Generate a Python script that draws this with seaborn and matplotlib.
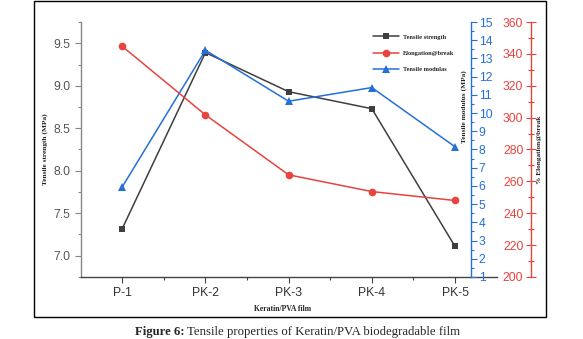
import matplotlib
matplotlib.use("Agg")
import matplotlib.pyplot as plt
import seaborn as sns
import pandas as pd
from matplotlib.patches import Rectangle
from matplotlib.ticker import MultipleLocator

films = ["P-1", "PK-2", "PK-3", "PK-4", "PK-5"]
tensile_strength = [7.32, 9.39, 8.93, 8.73, 7.11]
elongation = [344.7, 301.7, 264.1, 253.6, 248.0]
tensile_modulus = [5.95, 13.45, 10.65, 11.4, 8.15]

df = pd.DataFrame({"film": films, "ts": tensile_strength,
                   "el": elongation, "tm": tensile_modulus})

sns.set_theme(style="white")
plt.rcParams["font.family"] = ["Liberation Sans", "DejaVu Sans"]

BLACK = "#3f3f3f"
RED = "#e8433f"
BLUE = "#2470d8"
GREY = "#555555"
serif = ["Liberation Serif", "DejaVu Serif"]
TICK_FS = 8.7

fig = plt.figure(figsize=(5.83, 3.39), dpi=100)
ax = fig.add_axes([0.1384, 0.1829, 0.7134, 0.7522])
ax2 = ax.twinx()
ax3 = ax.twinx()

sns.lineplot(data=df, x="film", y="ts", ax=ax, color=BLACK, marker="s",
             markersize=5, markeredgewidth=0, linewidth=1.1, sort=False,
             label="Tensile strength", legend=False)
sns.lineplot(data=df, x="film", y="el", ax=ax3, color=RED, marker="o",
             markersize=5.5, markeredgewidth=0, linewidth=1.1, sort=False,
             label="Elongation@break", legend=False)
sns.lineplot(data=df, x="film", y="tm", ax=ax2, color=BLUE, marker="^",
             markersize=6, markeredgewidth=0, linewidth=1.1, sort=False,
             label="Tensile modulas", legend=False)

# main axis
ax.set_xlim(-0.5, 4.5)
ax.set_ylim(6.75, 9.75)
ax.yaxis.set_major_locator(MultipleLocator(0.5))
ax.yaxis.set_minor_locator(MultipleLocator(0.25))
ax.set_xticks(range(len(films)))
ax.set_xticklabels(films)
ax.set_xticks([i + 0.5 for i in range(len(films) - 1)], minor=True)
for s in ["top", "right"]:
    ax.spines[s].set_visible(False)
ax.spines["left"].set_color("#888888")
ax.spines["bottom"].set_color("#444444")
ax.spines["left"].set_linewidth(1.0)
ax.spines["bottom"].set_linewidth(1.0)
ax.tick_params(axis="y", which="major", direction="out", length=4, width=0.8,
               color="#888888", labelsize=TICK_FS, labelcolor=GREY, left=True)
ax.tick_params(axis="y", which="minor", direction="out", length=2.5, width=0.8,
               color="#888888", left=True)
ax.tick_params(axis="x", which="major", direction="out", length=4, width=0.8,
               color="#444444", labelsize=TICK_FS, labelcolor="#333333", bottom=True)
ax.tick_params(axis="x", which="minor", direction="out", length=2.5, width=0.8,
               color="#444444", bottom=True)
ax.set_ylabel("Tensile strength (MPa)", fontfamily=serif, fontweight="bold",
              fontsize=5.3, color="#222222")
ax.yaxis.set_label_coords(-0.078, 0.5)
ax.set_xlabel("Keratin/PVA film", fontfamily=serif, fontweight="bold",
              fontsize=5.5, color="#222222")
ax.xaxis.set_label_coords(0.485, -0.11)

# blue axis (tensile modulus)
ax2.set_ylim(1, 15)
ax2.yaxis.set_major_locator(MultipleLocator(1))
ax2.yaxis.set_minor_locator(MultipleLocator(0.5))
for s in ["top", "left", "bottom"]:
    ax2.spines[s].set_visible(False)
ax2.spines["right"].set_position(("axes", 0.9385))
ax2.spines["right"].set_color(BLUE)
ax2.spines["right"].set_linewidth(1.0)
ax2.tick_params(axis="y", which="major", direction="out", length=4, width=0.8,
                color=BLUE, labelsize=TICK_FS, labelcolor=BLUE, right=True, pad=1.5)
ax2.tick_params(axis="y", which="minor", direction="out", length=2.5, width=0.8,
                color=BLUE, right=True)
ax2.set_ylabel("Tensile modulus (MPa)", fontfamily=serif, fontweight="bold",
               fontsize=5.3, color="#222222")
ax2.yaxis.set_label_position("left")
ax2.yaxis.set_label_coords(0.93, 0.67)

# red axis (elongation)
ax3.set_ylim(200, 360)
ax3.yaxis.set_major_locator(MultipleLocator(20))
ax3.yaxis.set_minor_locator(MultipleLocator(10))
for s in ["top", "right", "bottom"]:
    ax3.spines[s].set_visible(False)
ax3.spines["left"].set_visible(True)
ax3.spines["left"].set_position(("axes", 1.0827))
ax3.spines["left"].set_color(RED)
ax3.spines["left"].set_linewidth(1.0)
ax3.yaxis.tick_left()
ax3.tick_params(axis="y", which="major", direction="inout", length=7, width=0.8,
                color=RED, labelsize=TICK_FS, labelcolor=RED, pad=2)
ax3.tick_params(axis="y", which="minor", direction="inout", length=4, width=0.8,
                color=RED)
ax3.set_ylabel("% Elongation@break", fontfamily=serif, fontweight="bold",
               fontsize=5.3, color="#222222")
ax3.yaxis.set_label_position("right")
ax3.yaxis.set_label_coords(1.098, 0.5)

# legend
handles = []
labels = []
for a in (ax, ax3, ax2):
    h, l = a.get_legend_handles_labels()
    handles += h
    labels += l
leg = ax.legend(handles, labels, loc="upper left", bbox_to_anchor=(0.69, 0.975),
                frameon=False, prop={"family": serif, "weight": "bold", "size": 4.6},
                handlelength=4, labelspacing=1.7, handletextpad=0.6)

# figure frame
fig.patches.append(Rectangle((34 / 583, 1 - 317 / 339), (546 - 34) / 583,
                             (316) / 339, transform=fig.transFigure,
                             fill=False, edgecolor="black", linewidth=1.0))

# caption
t1 = fig.text(135 / 583, 1 - 332 / 339, "Figure 6:", fontfamily=serif,
              fontweight="bold", fontsize=9.2, ha="left", va="center")
fig.text(0, 0, " Tensile properties of Keratin/PVA biodegradable film",
         fontfamily=serif, fontsize=9.2, ha="left", va="center",
         transform=fig.transFigure).set_visible(False)
ax.annotate(" Tensile properties of Keratin/PVA biodegradable film",
            xy=(1, 0.5), xycoords=t1, fontfamily=serif, fontsize=9.2,
            ha="left", va="center", annotation_clip=False)

fig.savefig("out.png", dpi=100)
